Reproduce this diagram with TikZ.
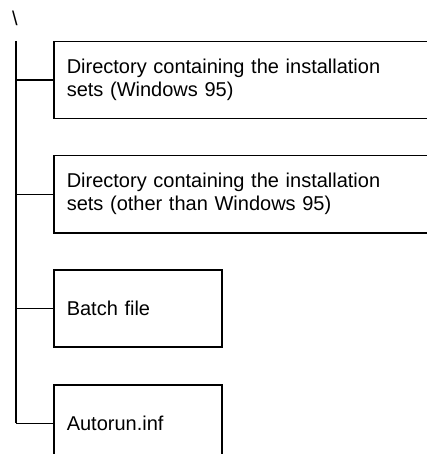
\documentclass[tikz,border=0pt]{standalone}
\usepackage{fontspec}
\setmainfont{Liberation Sans}
\begin{document}
\begin{tikzpicture}[x=1pt,y=-1pt,
  every node/.style={font=\fontsize{20}{23}\selectfont},
  boxbig/.style={draw,line width=1.5pt,anchor=north west,minimum width=400pt,minimum height=77pt,inner xsep=13pt,text width=374pt,align=left},
  boxsmall/.style={draw,line width=1.5pt,anchor=north west,minimum width=168pt,minimum height=77pt,inner xsep=13pt,text width=142pt,align=left},
  conn/.style={line width=1.5pt}]
\useasboundingbox (0,0) rectangle (427,454);
\clip (0,0) rectangle (427,454);
\node[inner sep=0pt] (root) at (15,18) {\textbackslash};
\coordinate (top) at (16,41);
\node[boxbig] (d1) at (53,41) {Directory containing the installation\\sets (Windows 95)};
\node[boxbig] (d2) at (53,155) {Directory containing the installation\\sets (other than Windows 95)};
\node[boxsmall] (b) at (53,269) {Batch file};
\node[boxsmall] (a) at (53,384) {Autorun.inf};
\coordinate (bot) at (top |- a.west);
\draw[conn] (top) -- (bot);
\draw[conn] (top |- d1.west) -- (d1.west);
\draw[conn] (top |- d2.west) -- (d2.west);
\draw[conn] (top |- b.west) -- (b.west);
\draw[conn] (bot) -- (a.west);
\end{tikzpicture}
\end{document}
